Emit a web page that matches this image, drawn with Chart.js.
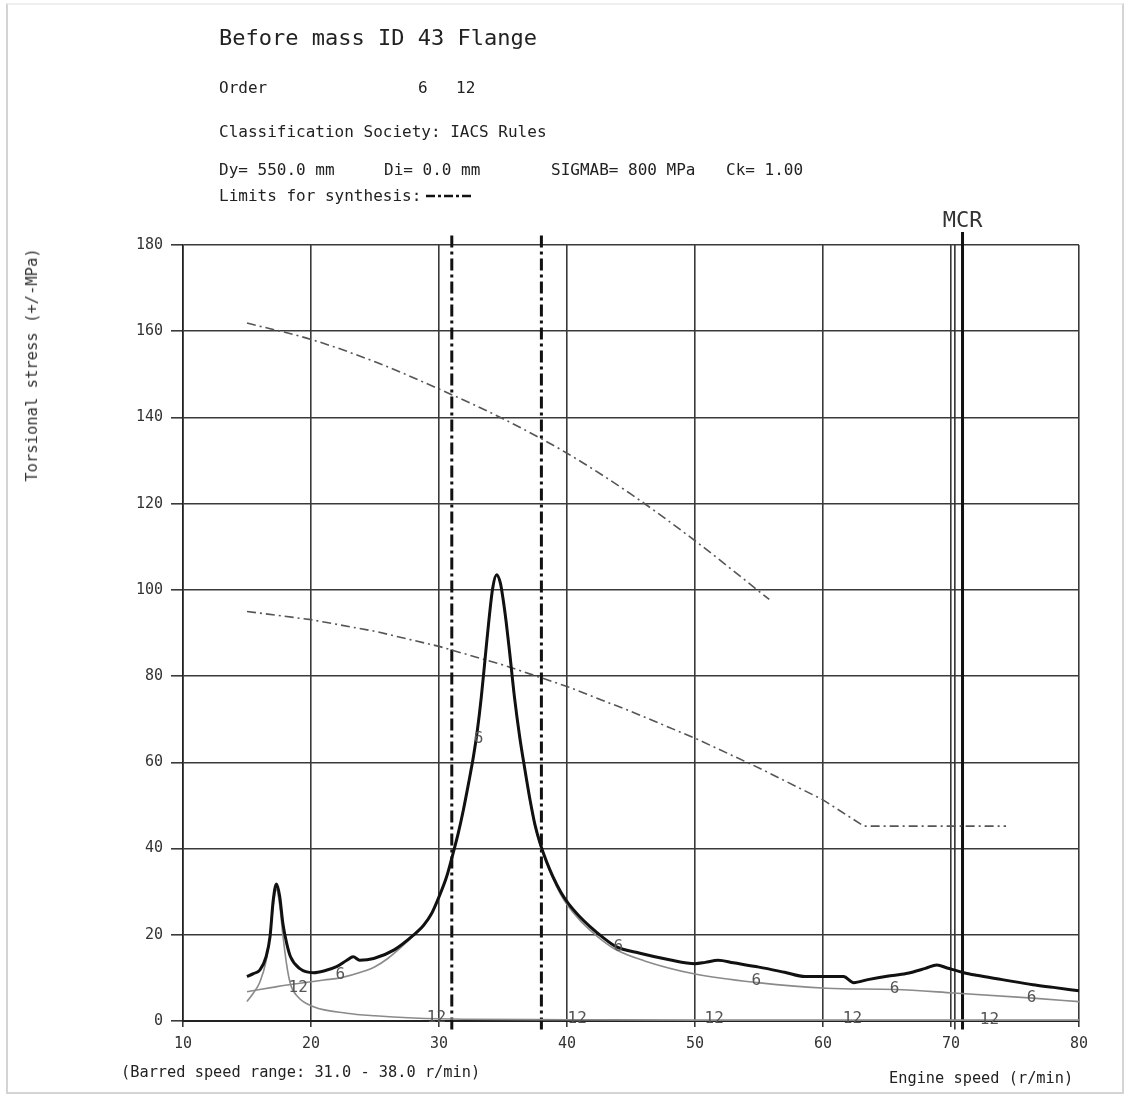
<!DOCTYPE html>
<html>
<head>
<meta charset="utf-8">
<script src="https://cdn.jsdelivr.net/npm/chart.js@4.4.0/dist/chart.umd.min.js"></script>
<style>
  html,body{margin:0;padding:0;background:#fff;}
  body{width:1129px;height:1102px;position:relative;overflow:hidden;font-family:"DejaVu Sans Mono",monospace;color:#222;}
  #wrap{position:absolute;left:0;top:0;width:1129px;height:1102px;}
  .t{position:absolute;white-space:pre;line-height:1;transform:translateY(-50%);}
  #frame{position:absolute;left:6px;top:3px;width:1118px;height:1091px;border:2px solid #d4d4d4;border-top-color:#eee;box-sizing:border-box;pointer-events:none;}
  #ytitle{position:absolute;left:32px;top:365px;transform:translate(-50%,-50%) rotate(-90deg);white-space:pre;font-size:15.5px;color:#333;}
</style>
</head>
<body>
<div id="frame"></div>
<div id="wrap"><canvas id="c" width="1129" height="1102"></canvas></div>
<div class="t" style="left:219px;top:38px;font-size:22px;">Before mass ID 43 Flange</div>
<div class="t" style="left:219px;top:88px;font-size:16px;">Order</div>
<div class="t" style="left:418px;top:88px;font-size:16px;">6</div>
<div class="t" style="left:456px;top:88px;font-size:16px;">12</div>
<div class="t" style="left:219px;top:132px;font-size:16px;">Classification Society: IACS Rules</div>
<div class="t" style="left:219px;top:170px;font-size:16px;">Dy= 550.0 mm</div>
<div class="t" style="left:384px;top:170px;font-size:16px;">Di= 0.0 mm</div>
<div class="t" style="left:551px;top:170px;font-size:16px;">SIGMAB= 800 MPa</div>
<div class="t" style="left:726px;top:170px;font-size:16px;">Ck= 1.00</div>
<div class="t" style="left:219px;top:196px;font-size:16px;">Limits for synthesis:</div>
<svg style="position:absolute;left:426px;top:192px" width="48" height="8"><line x1="0" y1="4" x2="46" y2="4" stroke="#111" stroke-width="2.5" stroke-dasharray="9,3,3,3"/></svg>
<div id="ytitle">Torsional stress (+/-MPa)</div>
<div class="t" style="left:121px;top:1073px;font-size:15.3px;">(Barred speed range: 31.0 - 38.0 r/min)</div>
<div class="t" style="left:889px;top:1079px;font-size:15.3px;">Engine speed (r/min)</div>
<script>
// ---- data ----
const xTicks = [10, 20, 30, 40, 50, 60, 70, 80];
const yTicks = [0, 20, 40, 60, 80, 100, 120, 140, 160, 180];

const totalSpeed = [15, 15.5, 16, 16.5, 16.8, 17.05, 17.3, 17.55, 17.8, 18.1, 18.4, 19.1, 20.2, 21, 22, 22.8, 23.3, 23.8, 24.9, 26.5, 28, 28.8, 29.4, 30.0, 30.6, 31.1, 31.5, 31.9, 32.3, 32.7, 33.0, 33.3, 33.6, 33.9, 34.2, 34.5, 34.8, 35.0, 35.25, 35.5, 35.9, 36.3, 36.7, 37.1, 37.5, 37.9, 38.4, 38.9, 39.5, 40.1, 41.0, 41.8, 42.8, 43.8, 45.7, 48, 50, 50.8, 51.8, 53, 55, 57, 58.6, 61.6, 62.4, 63.5, 65, 66.5, 68, 68.9, 69.7, 71, 72, 74, 76.4, 78, 80];
const totalStress = [10.3, 11, 11.8, 15, 19.6, 28, 31.8, 29, 22.7, 18, 14.9, 12.2, 11.2, 11.6, 12.6, 14.1, 14.9, 14.1, 14.5, 16.5, 19.9, 22.2, 24.8, 28.8, 33.5, 38.9, 43.5, 48.9, 55, 61.5, 67.5, 75, 84, 93, 100.5, 103.5, 101.5, 98, 92.5, 86, 75, 66, 58.5, 51.5, 45.5, 41.2, 37, 33.5, 30, 27.3, 24.2, 21.9, 19.4, 17.3, 15.7, 14.2, 13.3, 13.6, 14.1, 13.5, 12.5, 11.3, 10.3, 10.3, 8.9, 9.6, 10.4, 11, 12.2, 13, 12.3, 11.2, 10.6, 9.6, 8.4, 7.8, 7.0];

const order6Speed = [15, 16, 17, 18, 19, 20, 21, 22.3, 24, 25, 26, 27, 28, 28.8, 29.4, 30.0, 30.6, 31.1, 31.5, 31.9, 32.3, 32.7, 33.0, 33.3, 33.6, 33.9, 34.2, 34.5, 34.8, 35.0, 35.25, 35.5, 35.9, 36.3, 36.7, 37.1, 37.5, 37.9, 38.4, 38.9, 39.5, 40.1, 41.0, 41.8, 42.8, 43.8, 46, 50, 54.9, 60.3, 65.6, 70.2, 76.4, 80];
const order6Stress = [6.8, 7.3, 7.8, 8.3, 8.7, 9.1, 9.5, 10.0, 11.4, 12.6, 14.5, 17, 19.8, 22.3, 24.9, 28.8, 33.5, 38.9, 43.5, 48.9, 55, 61.5, 67.5, 75, 84, 93, 100.5, 103.3, 101.3, 97.8, 92.3, 85.8, 74.8, 65.8, 58.3, 51.2, 45.2, 40.8, 36.6, 33, 29.4, 26.6, 23.4, 21.1, 18.6, 16.6, 14.0, 10.9, 8.9, 7.6, 7.3, 6.5, 5.3, 4.5];

const order12Speed = [15, 15.5, 16, 16.5, 16.8, 17.1, 17.3, 17.55, 17.8, 18.1, 18.4, 19, 20.2, 22.8, 25, 28, 32, 40, 50, 60, 70, 80];
const order12Stress = [4.5, 6.5, 9, 14, 20, 28, 30.5, 27, 20, 13, 8.5, 5.5, 3.3, 1.8, 1.2, 0.7, 0.4, 0.3, 0.2, 0.2, 0.2, 0.2];

const upperLimitSpeed = [15, 20, 25, 30, 35, 40, 45, 50, 55.8];
const upperLimitStress = [161.9, 158.1, 152.9, 146.6, 139.7, 131.7, 122.2, 111.4, 97.8];

const lowerLimitSpeed = [15, 20, 25, 30, 35, 40, 45, 50, 55, 60, 63.2, 74.3];
const lowerLimitStress = [95, 93.1, 90.4, 86.9, 82.6, 77.6, 71.8, 65.6, 58.7, 51.3, 45.2, 45.2];

const barredSpeeds = [31, 38];
const mcrSpeed = 70.9;
const mcrThinSpeed = 70.3;
const lineBottom = -2;
const barredTop = 183;
const mcrTop = 183;

const order6LabelSpeed = [33.1, 22.3, 44.0, 54.8, 65.6, 76.3];
const order6LabelStress = [65.5, 10.6, 17.2, 9.4, 7.4, 5.4];
const order12LabelSpeed = [19.0, 29.8, 40.8, 51.5, 62.3, 73.0];
const order12LabelStress = [7.6, 0.8, 0.5, 0.5, 0.5, 0.3];

// ---- build ----
const pts = (xs, ys) => xs.map((x, i) => ({x: x, y: ys[i]}));
const vline = (x, top) => [{x: x, y: lineBottom}, {x: x, y: top}];

const datasets = [
  {label: 'Total', data: pts(totalSpeed, totalStress), borderColor: '#111', borderWidth: 3, cubicInterpolationMode: 'monotone'},
  {label: 'Order 6', data: pts(order6Speed, order6Stress), borderColor: '#8a8a8a', borderWidth: 1.6, cubicInterpolationMode: 'monotone'},
  {label: 'Order 12', data: pts(order12Speed, order12Stress), borderColor: '#8a8a8a', borderWidth: 1.6, cubicInterpolationMode: 'monotone'},
  {label: 'Upper limit', data: pts(upperLimitSpeed, upperLimitStress), borderColor: '#555', borderWidth: 1.6, borderDash: [9, 4, 2, 4], cubicInterpolationMode: 'monotone'},
  {label: 'Lower limit', data: pts(lowerLimitSpeed, lowerLimitStress), borderColor: '#555', borderWidth: 1.6, borderDash: [9, 4, 2, 4]},
  {label: 'Barred 1', data: vline(barredSpeeds[0], barredTop), borderColor: '#111', borderWidth: 3, borderDash: [12, 4, 3, 4]},
  {label: 'Barred 2', data: vline(barredSpeeds[1], barredTop), borderColor: '#111', borderWidth: 3, borderDash: [12, 4, 3, 4]},
  {label: 'MCR', data: vline(mcrSpeed, mcrTop), borderColor: '#111', borderWidth: 3},
  {label: 'MCR thin', data: vline(mcrThinSpeed, 180), borderColor: '#333', borderWidth: 1.6}
];
datasets.forEach(d => { d.pointRadius = 0; d.fill = false; d.clip = false; d.tension = 0; });

const labelPlugin = {
  id: 'curveLabels',
  afterDatasetsDraw(chart) {
    const ctx = chart.ctx, xs = chart.scales.x, ys = chart.scales.y;
    ctx.save();
    ctx.font = '16px "DejaVu Sans Mono", monospace';
    ctx.fillStyle = '#555';
    ctx.textAlign = 'center';
    ctx.textBaseline = 'middle';
    order6LabelSpeed.forEach((s, i) => ctx.fillText('6', xs.getPixelForValue(s), ys.getPixelForValue(order6LabelStress[i])));
    order12LabelSpeed.forEach((s, i) => ctx.fillText('12', xs.getPixelForValue(s), ys.getPixelForValue(order12LabelStress[i])));
    ctx.fillStyle = '#333';
    ctx.font = '22px "DejaVu Sans Mono", monospace';
    ctx.textBaseline = 'alphabetic';
    ctx.fillText('MCR', xs.getPixelForValue(mcrSpeed), ys.getPixelForValue(mcrTop) - 5);
    ctx.restore();
  }
};

new Chart(document.getElementById('c'), {
  type: 'line',
  data: {datasets: datasets},
  options: {
    responsive: false,
    animation: false,
    events: [],
    layout: {padding: {left: 0, right: 50, top: 245, bottom: 0}},
    plugins: {legend: {display: false}, tooltip: {enabled: false}},
    scales: {
      x: {
        type: 'linear', min: 10, max: 80,
        afterFit: s => { s.height = 81; },
        afterBuildTicks: s => { s.ticks = xTicks.map(v => ({value: v})); },
        grid: {color: '#3a3a3a', lineWidth: 1.6, tickLength: 6, drawTicks: true},
        border: {color: '#222', width: 2},
        ticks: {color: '#333', font: {family: 'DejaVu Sans Mono', size: 15}, padding: 8, maxRotation: 0}
      },
      y: {
        type: 'linear', min: 0, max: 180,
        afterFit: s => { s.width = 183; },
        afterBuildTicks: s => { s.ticks = yTicks.map(v => ({value: v})); },
        grid: {color: '#3a3a3a', lineWidth: 1.6, tickLength: 12, drawTicks: true},
        border: {color: '#222', width: 1.6},
        ticks: {color: '#333', font: {family: 'DejaVu Sans Mono', size: 15}, padding: 8}
      }
    }
  },
  plugins: [labelPlugin]
});
</script>
</body>
</html>
